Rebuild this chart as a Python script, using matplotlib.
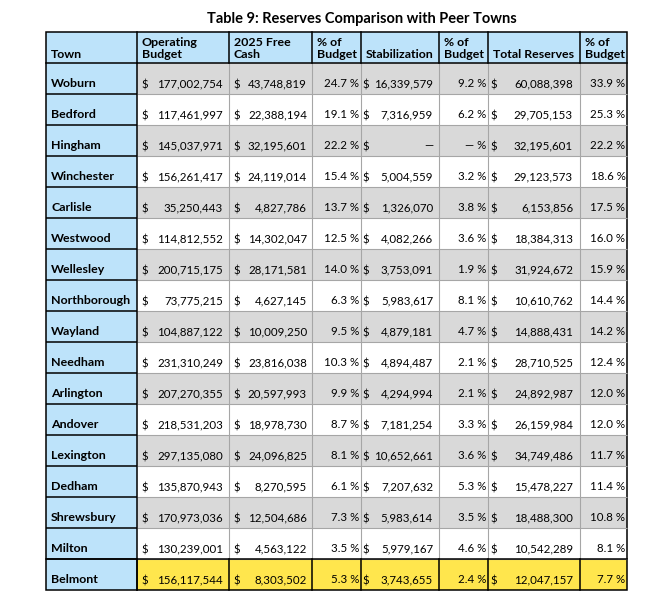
import matplotlib
matplotlib.use("Agg")
import matplotlib.pyplot as plt
from matplotlib.patches import Rectangle

# ---- data ----
title = "Table 9: Reserves Comparison with Peer Towns"
headers = [["Town"], ["Operating", "Budget"], ["2025 Free", "Cash"], ["% of", "Budget"],
           ["Stabilization"], ["% of", "Budget"], ["Total Reserves"], ["% of", "Budget"]]
towns = ["Woburn", "Bedford", "Hingham", "Winchester", "Carlisle", "Westwood", "Wellesley",
         "Northborough", "Wayland", "Needham", "Arlington", "Andover", "Lexington", "Dedham",
         "Shrewsbury", "Milton", "Belmont"]
operating_budget = [177002754, 117461997, 145037971, 156261417, 35250443, 114812552, 200715175,
                    73775215, 104887122, 231310249, 207270355, 218531203, 297135080, 135870943,
                    170973036, 130239001, 156117544]
free_cash = [43748819, 22388194, 32195601, 24119014, 4827786, 14302047, 28171581,
             4627145, 10009250, 23816038, 20597993, 18978730, 24096825, 8270595,
             12504686, 4563122, 8303502]
free_cash_pct = [24.7, 19.1, 22.2, 15.4, 13.7, 12.5, 14.0, 6.3, 9.5, 10.3, 9.9, 8.7, 8.1, 6.1,
                 7.3, 3.5, 5.3]
stabilization = [16339579, 7316959, None, 5004559, 1326070, 4082266, 3753091, 5983617, 4879181,
                 4894487, 4294994, 7181254, 10652661, 7207632, 5983614, 5979167, 3743655]
stabilization_pct = [9.2, 6.2, None, 3.2, 3.8, 3.6, 1.9, 8.1, 4.7, 2.1, 2.1, 3.3, 3.6, 5.3,
                     3.5, 4.6, 2.4]
total_reserves = [60088398, 29705153, 32195601, 29123573, 6153856, 18384313, 31924672, 10610762,
                  14888431, 28710525, 24892987, 26159984, 34749486, 15478227, 18488300,
                  10542289, 12047157]
total_pct = [33.9, 25.3, 22.2, 18.6, 17.5, 16.0, 15.9, 14.4, 14.2, 12.4, 12.0, 12.0, 11.7,
             11.4, 10.8, 8.1, 7.7]
highlight_town = "Belmont"

# ---- layout / style ----
W, H = 654, 602
col_edges = [46, 137, 229, 312, 361, 439, 488, 580, 627]
header_top, header_bot = 32, 63
row_h = 31
FONT = "Lato"
FS_B = 8.9     # bold labels
FS_N = 8.25    # numbers
BLUE = "#BDE3FA"
GRAY = "#D9D9D9"
YELLOW = "#FFE64D"
GRID = "#A6A6A6"

plt.rcParams['font.family'] = [FONT, 'DejaVu Sans']
fig = plt.figure(figsize=(W / 100, H / 100), dpi=100)
ax = fig.add_axes([0, 0, 1, 1])
ax.set_xlim(0, W)
ax.set_ylim(H, 0)
ax.axis('off')

n = len(towns)
row_edges = [header_bot + row_h * i for i in range(n + 1)]
left, right = col_edges[0], col_edges[-1]
bottom = row_edges[-1]

# title
ax.text(362, 23, title, ha='center', va='baseline', fontsize=10.5, fontweight='bold')

# backgrounds
ax.add_patch(Rectangle((left, header_top), right - left, header_bot - header_top,
                       facecolor=BLUE, edgecolor='none'))
for i in range(n):
    y0 = row_edges[i]
    if towns[i] == highlight_town:
        c = YELLOW
    elif i % 2 == 0:
        c = GRAY
    else:
        c = 'white'
    ax.add_patch(Rectangle((col_edges[1], y0), right - col_edges[1], row_h,
                           facecolor=c, edgecolor='none'))
    ax.add_patch(Rectangle((left, y0), col_edges[1] - left, row_h,
                           facecolor=BLUE, edgecolor='none'))

# grid lines (gray, inside data area)
glw = 0.8
for i in range(1, n):
    y = row_edges[i]
    ax.plot([col_edges[1], right], [y, y], color=GRID, lw=glw, solid_capstyle='butt')
for x in col_edges[2:-1]:
    ax.plot([x, x], [header_bot, row_edges[-2]], color=GRID, lw=glw, solid_capstyle='butt')

# black lines
blw = 1.1
hi = towns.index(highlight_town)
for i in range(1, n):
    y = row_edges[i]
    ax.plot([left, col_edges[1]], [y, y], color='black', lw=blw, solid_capstyle='butt')
ax.plot([left, right], [row_edges[hi], row_edges[hi]], color='black', lw=blw)
for x in col_edges[1:-1]:
    ax.plot([x, x], [header_top, header_bot], color='black', lw=blw)
    ax.plot([x, x], [row_edges[hi], row_edges[hi + 1]], color='black', lw=blw)
ax.plot([col_edges[1], col_edges[1]], [header_bot, bottom], color='black', lw=blw)
ax.plot([left, right], [header_bot, header_bot], color='black', lw=blw)
ax.add_patch(Rectangle((left, header_top), right - left, bottom - header_top,
                       facecolor='none', edgecolor='black', lw=blw))

# header text
for j, lines in enumerate(headers):
    x = col_edges[j] + 5
    if len(lines) == 1:
        ax.text(x, header_top + 25.5, lines[0], ha='left', va='baseline', fontsize=FS_B,
                fontweight='bold')
    else:
        ax.text(x, header_top + 13.5, lines[0], ha='left', va='baseline', fontsize=FS_B,
                fontweight='bold')
        ax.text(x, header_top + 25.5, lines[1], ha='left', va='baseline', fontsize=FS_B,
                fontweight='bold')


def money(v):
    return "\u2014" if v is None else f"{v:,.0f}"


def pct(v):
    return "\u2014 %" if v is None else f"{v:.1f} %"


dollar_left = {1: 4, 2: 4, 4: 1.5, 6: 2.5}
num_pad = {1: 6, 2: 5, 4: 6, 6: 7}
pct_pad = {3: 2, 5: 1.5, 7: 1.5}

for i in range(n):
    yb = row_edges[i + 1] - 7
    ax.text(col_edges[0] + 5, yb, towns[i], ha='left', va='baseline', fontsize=FS_B,
            fontweight='bold')
    money_cols = {1: operating_budget[i], 2: free_cash[i], 4: stabilization[i],
                  6: total_reserves[i]}
    pct_cols = {3: free_cash_pct[i], 5: stabilization_pct[i], 7: total_pct[i]}
    for j, v in money_cols.items():
        ax.text(col_edges[j] + dollar_left[j], yb + 1.3, "$", ha='left', va='baseline',
                fontsize=FS_N)
        ax.text(col_edges[j + 1] - num_pad[j], yb, money(v), ha='right', va='baseline',
                fontsize=FS_N)
    for j, v in pct_cols.items():
        ax.text(col_edges[j + 1] - pct_pad[j], yb, pct(v), ha='right', va='baseline',
                fontsize=FS_N)

fig.savefig("out.png", dpi=100, facecolor='white')
